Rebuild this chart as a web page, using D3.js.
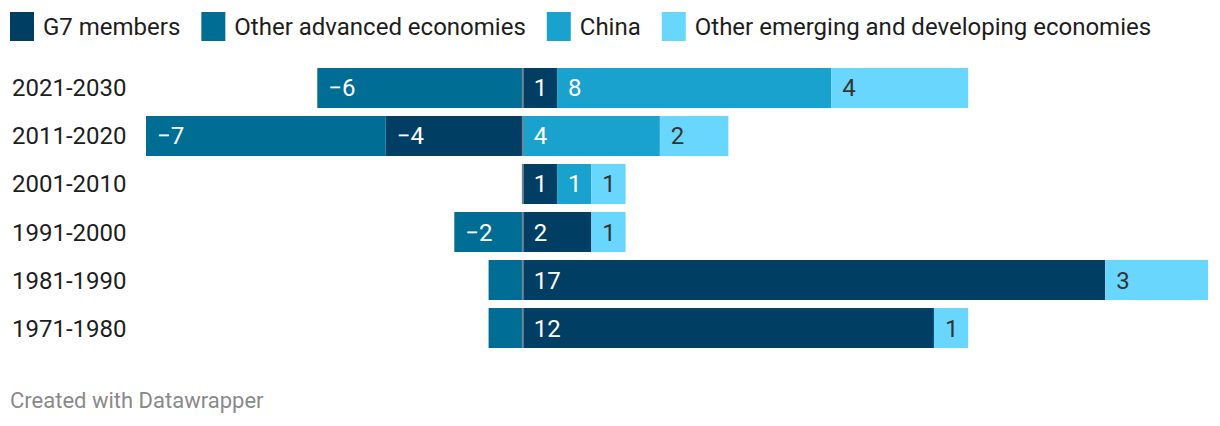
<!DOCTYPE html>
<html><head><meta charset="utf-8">
<script src="https://cdn.jsdelivr.net/npm/d3@7"></script>
<style>
html,body{margin:0;padding:0;background:#fff;}
svg{display:block;font-family:Roboto,sans-serif;}
</style></head>
<body><svg id="c" width="1220" height="426"></svg>
<script>
const periods = ["2021-2030","2011-2020","2001-2010","1991-2000","1981-1990","1971-1980"];
const seriesNames = ["G7 members","Other advanced economies","China","Other emerging and developing economies"];
const g7 = [1,-4,1,2,17,12];
const otherAdvanced = [-6,-7,0,-2,-1,-1];
const china = [8,4,1,0,0,0];
const otherEmerging = [4,2,1,1,3,1];
const colors = ["#003f63","#006d95","#19a2ce","#69d7fd"];
const labelColors = ["#fff","#fff","#fff","#333"];

const svg = d3.select("#c");
const x = d3.scaleLinear().domain([-11,20]).range([146,1208]);
const y = d3.scaleBand().domain(periods).range([64,352]).paddingInner(0.1667).paddingOuter(0.083);

// legend
const leg = svg.append("g");
let lx = 10;
seriesNames.forEach((n,i)=>{
  const g = leg.append("g").attr("transform",`translate(${lx},12)`);
  g.append("rect").attr("width",24).attr("height",29).attr("fill",colors[i]);
  const t = g.append("text").attr("x",33).attr("y",22.5).attr("font-size",24).attr("fill","#1d1d1d").text(n);
  lx += 33 + t.node().getComputedTextLength() + 21;
});

// stacking: positive to the right, negatives to the left
const seriesVals = [g7, otherAdvanced, china, otherEmerging];
const segs = [];
periods.forEach((p,pi)=>{
  let pos=0, neg=0;
  seriesVals.forEach((arr,si)=>{
    const v = arr[pi];
    if (v===0) return;
    let x0,x1;
    if (v>0){ x0=pos; x1=pos+v; pos=x1; } else { x0=neg+v; x1=neg; neg=x0; }
    segs.push({p,si,v,x0,x1});
  });
});

svg.append("g").selectAll("rect").data(segs).join("rect")
  .attr("x",d=>x(d.x0)).attr("width",d=>x(d.x1)-x(d.x0))
  .attr("y",d=>y(d.p)).attr("height",y.bandwidth())
  .attr("fill",d=>colors[d.si]);

// zero line
svg.append("g").selectAll("rect").data(periods).join("rect")
  .attr("x",x(0)-1).attr("width",2).attr("y",d=>y(d)).attr("height",y.bandwidth())
  .attr("fill","#6d8597");

// value labels
const fmt = v => v<0 ? "\u2212"+Math.abs(v) : String(v);
svg.append("g").selectAll("text").data(segs).join("text")
  .attr("x",d=>x(d.x0)+11).attr("y",d=>y(d.p)+y.bandwidth()/2+8.5)
  .attr("font-size",24).attr("fill",d=>labelColors[d.si])
  .text(d=>fmt(d.v))
  .each(function(d){
    const w = this.getComputedTextLength();
    if (w + 16 > x(d.x1)-x(d.x0)) d3.select(this).remove();
  });

// row labels
svg.append("g").selectAll("text").data(periods).join("text")
  .attr("x",12).attr("y",d=>y(d)+y.bandwidth()/2+8.5)
  .attr("font-size",24).attr("fill","#1d1d1d").text(d=>d);

svg.append("text").attr("x",10).attr("y",408).attr("font-size",22).attr("fill","#8a8a8a").text("Created with Datawrapper");
</script></body></html>
